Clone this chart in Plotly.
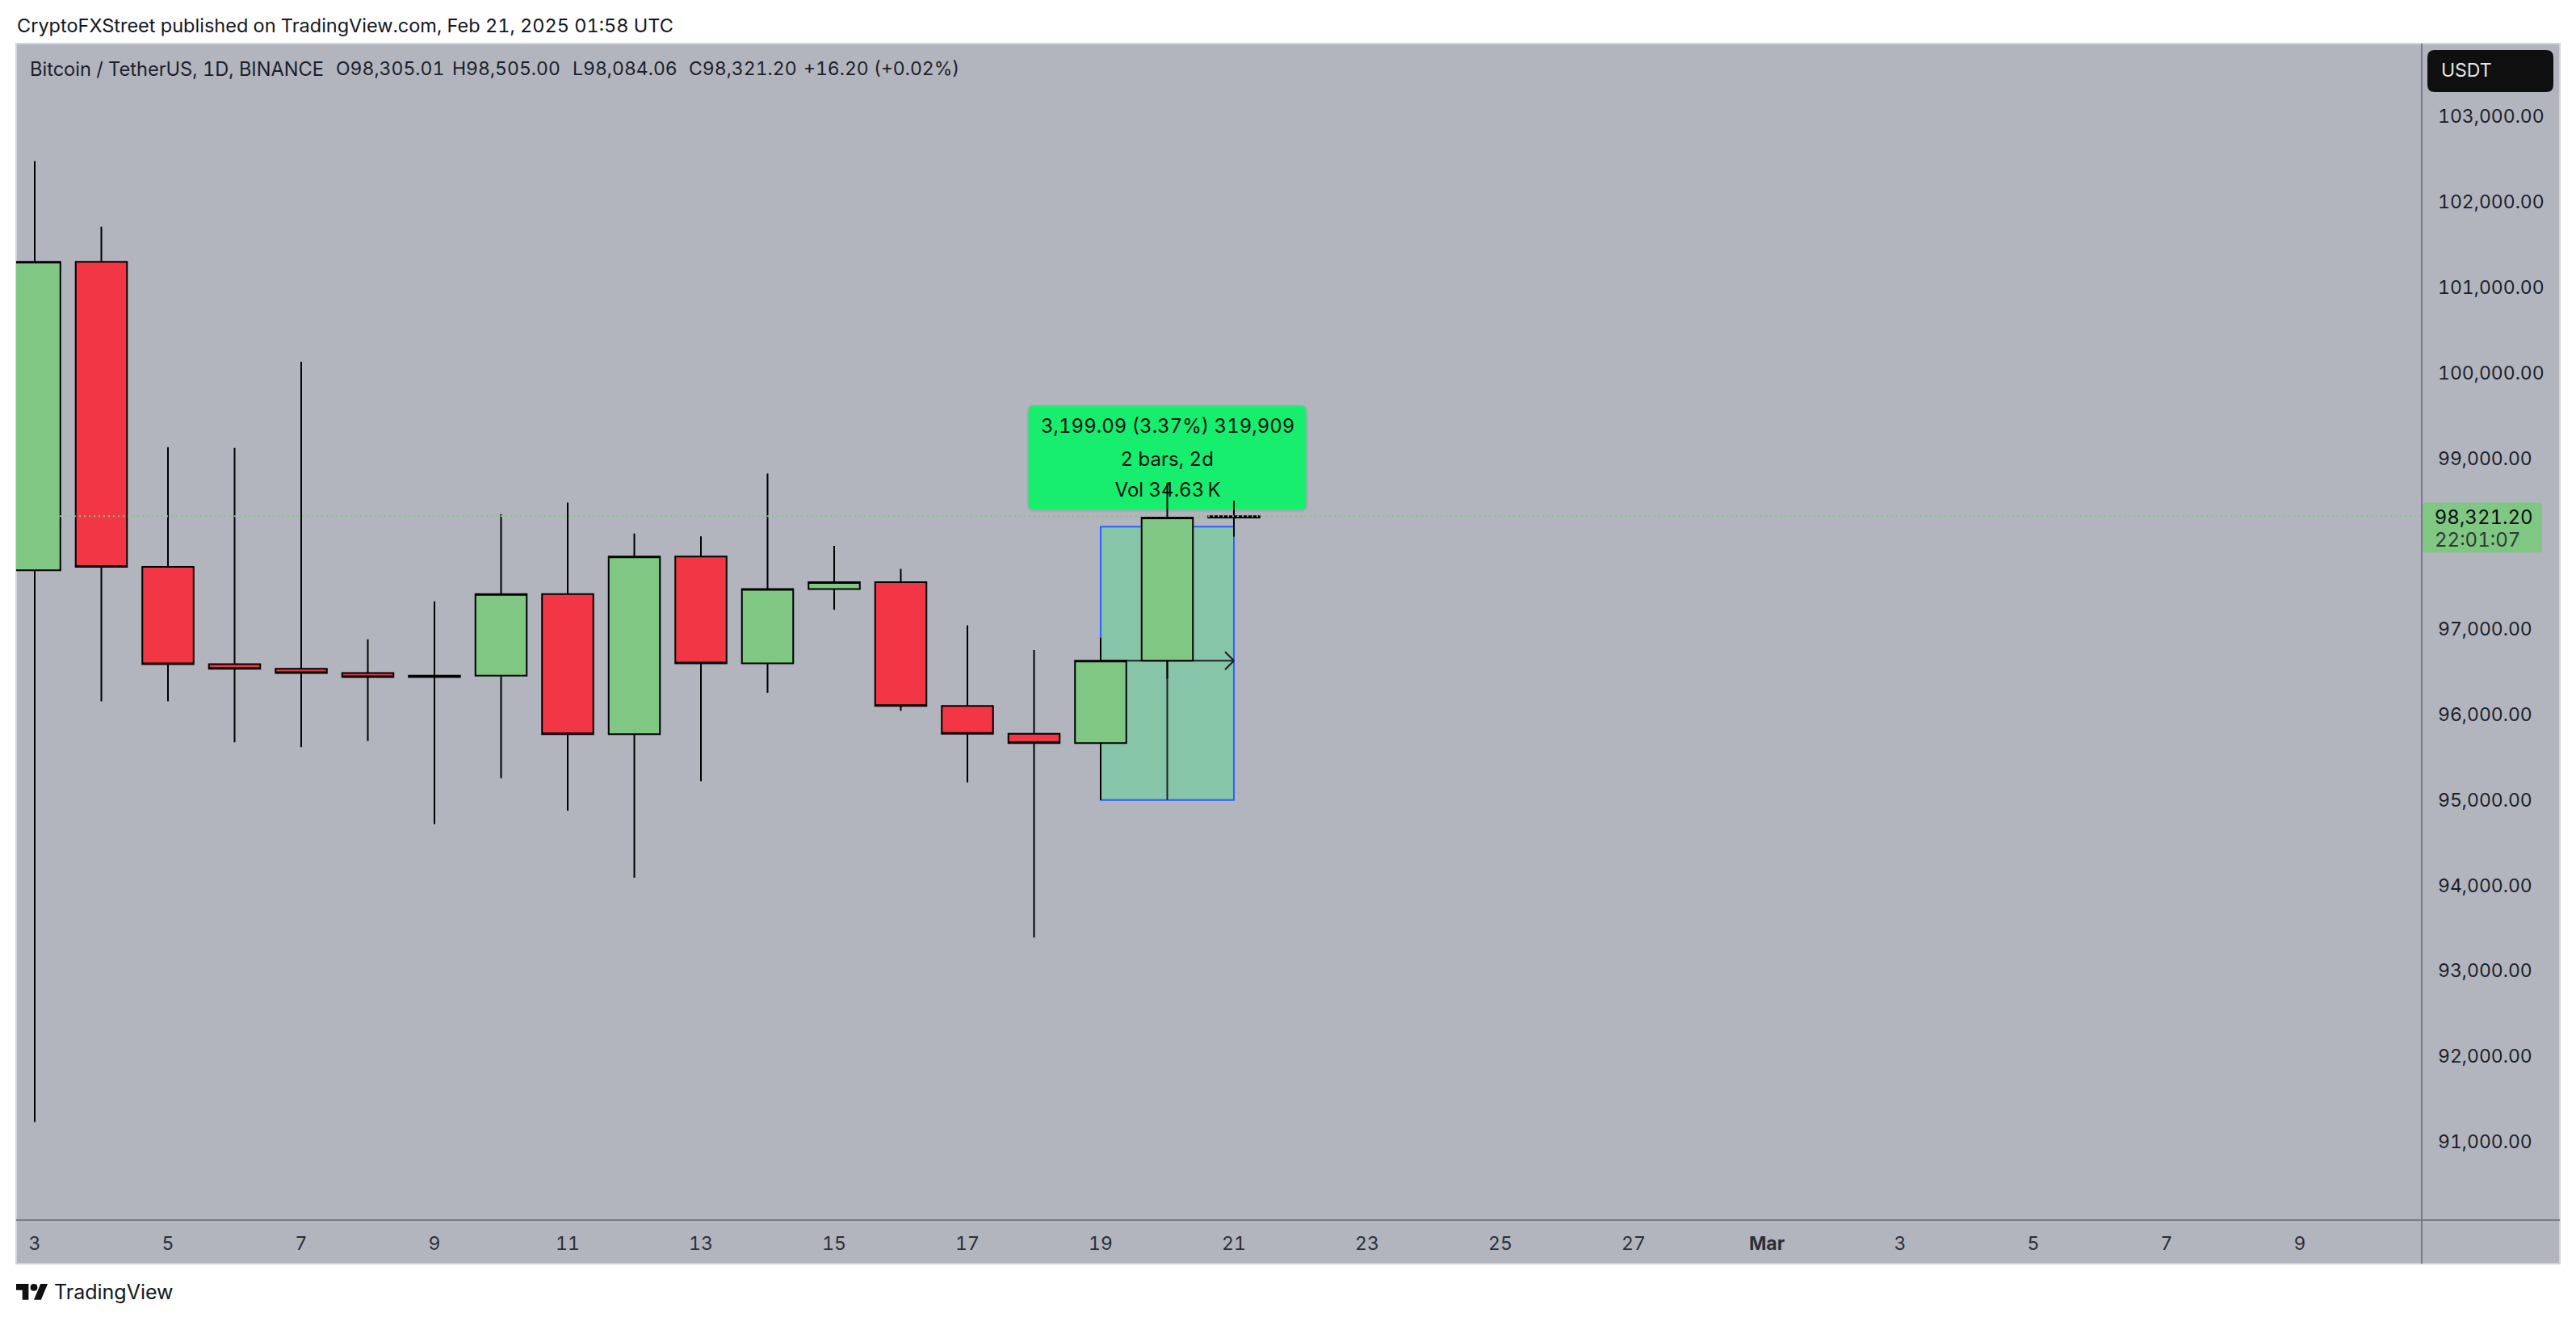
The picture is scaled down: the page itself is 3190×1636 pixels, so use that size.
import pandas as pd
import plotly.graph_objects as go

W, H = 3190, 1636

# ---- data ----
dates = ["2025-02-%02d" % d for d in range(3, 22)]
opens = [97690, 101300, 97730, 96590, 96535, 96485, 96440, 96455, 97410, 95770, 97850, 96600, 97470, 97550, 96100, 95775, 95665, 96630, 98305.01]
highs = [102480, 101710, 99130, 99120, 100130, 96880, 97325, 98345, 98480, 98120, 98085, 98820, 97975, 97705, 97045, 96755, 96900, 98715, 98505.00]
lows = [91230, 96155, 96155, 95675, 95620, 95690, 94715, 95255, 94875, 94090, 95220, 96255, 97225, 96045, 95205, 93390, 95000, 96420, 98084.06]
closes = [101300, 97730, 96590, 96535, 96485, 96440, 96455, 97410, 95770, 97850, 96600, 97470, 97550, 96100, 95775, 95665, 96630, 98305, 98321.20]

price_ticks = [91000, 92000, 93000, 94000, 95000, 96000, 97000, 99000, 100000, 101000, 102000, 103000]
date_ticks = ["2025-02-03", "2025-02-05", "2025-02-07", "2025-02-09", "2025-02-11", "2025-02-13",
              "2025-02-15", "2025-02-17", "2025-02-19", "2025-02-21", "2025-02-23", "2025-02-25",
              "2025-02-27", "2025-03-01", "2025-03-03", "2025-03-05", "2025-03-07", "2025-03-09"]
date_labels = ["3", "5", "7", "9", "11", "13", "15", "17", "19", "21", "23", "25", "27",
               "<b>Mar</b>", "3", "5", "7", "9"]

last_price = 98321.20
measure_low, measure_high = 95000.00, 98199.09
measure_start, measure_mid, measure_end = "2025-02-19", "2025-02-20", "2025-02-21"
measure_open = 96630
measure_lines = ["3,199.09 (3.37%) 319,909", "2 bars, 2d", "Vol 34.63\u2009K"]

header = "CryptoFXStreet published on TradingView.com, Feb 21, 2025 01:58 UTC"
legend_parts = ["Bitcoin / TetherUS, 1D, BINANCE", "O98,305.01", "H98,505.00", "L98,084.06", "C98,321.20", "+16.20 (+0.02%)"]
price_tag = "98,321.20"
countdown = "22:01:07"

# ---- layout constants (pixels) ----
FONT = "Inter"
BG = "#b2b5be"
GREEN = "#81c784"
RED = "#f23645"
AXISLINE = "#787b86"
INK = "#131722"
L, R, T, B = 20, 2999, 54, 1511      # plot area
RR, BB = 3170, 1565                  # panel outer edge
Y103, PXPER = 144.4, 0.10579         # pixel of 103,000 and pixels per USDT
X3, DAYPX = 43.0, 82.5               # pixel of Feb 3 and pixels per day


def fx(x):
    return x / W


def fy(y):
    return 1 - y / H


shapes = []
ann = []


def rect(x0, y0, x1, y1, fill=None, line=None, lw=0, layer="below"):
    shapes.append(dict(type="rect", xref="paper", yref="paper", x0=fx(x0), x1=fx(x1), y0=fy(y0), y1=fy(y1),
                       fillcolor=fill or "rgba(0,0,0,0)", line=dict(color=line or "rgba(0,0,0,0)", width=lw), layer=layer))


def rounded(w0, h0, w1, h1, r):
    return (f"M{w0+r},{h0} L{w1-r},{h0} Q{w1},{h0} {w1},{h0+r} L{w1},{h1-r} Q{w1},{h1} {w1-r},{h1} "
            f"L{w0+r},{h1} Q{w0},{h1} {w0},{h1-r} L{w0},{h0+r} Q{w0},{h0} {w0+r},{h0} Z")


def round_rect_px(x0, y0, x1, y1, r, fill, layer="below"):
    shapes.append(dict(type="path", xref="paper", yref="paper", xsizemode="pixel", ysizemode="pixel",
                       xanchor=0, yanchor=0, path=rounded(x0, H - y1, x1, H - y0, r),
                       fillcolor=fill, line=dict(width=0), layer=layer))


def text_px(x, y, s, size, color=INK, anchor="left", **kw):
    ann.append(dict(xref="paper", yref="paper", x=fx(x), y=fy(y), text=s, showarrow=False, xanchor=anchor,
                    yanchor="middle", font=dict(family=FONT, size=size, color=color), align="left", borderpad=0, **kw))


# panel, borders, axis rules
rect(L, T, RR, BB, fill=BG, line="#d1d4dc", lw=2)
rect(L, B - 1, RR, B + 1, fill=AXISLINE)
rect(R - 1, T, R + 1, BB, fill=AXISLINE)

# measuring tool, drawn below the candles
shapes.append(dict(type="rect", xref="x", yref="y", x0=measure_start, x1=measure_end, y0=measure_low, y1=measure_high,
                   fillcolor="#87c5a8", line=dict(color="#2962ff", width=2), layer="below"))
shapes.append(dict(type="line", xref="x", yref="y", x0=measure_start, x1=measure_end, y0=measure_open, y1=measure_open,
                   line=dict(color="#1c2026", width=2), layer="below"))
shapes.append(dict(type="line", xref="x", yref="y", x0=measure_mid, x1=measure_mid, y0=measure_low, y1=measure_high,
                   line=dict(color="#1c2026", width=2), layer="below"))
for dy in (-11, 11):
    shapes.append(dict(type="line", xref="x", yref="y", xsizemode="pixel", ysizemode="pixel",
                       xanchor=measure_end, yanchor=measure_open, x0=-11, x1=0, y0=dy, y1=0,
                       line=dict(color="#1c2026", width=2), layer="below"))
# measure label with a soft shadow
shapes.append(dict(type="path", xref="x", yref="y", xsizemode="pixel", ysizemode="pixel",
                   xanchor=measure_mid, yanchor=measure_high, path=rounded(-174, 18, 174, 151, 9),
                   fillcolor="rgba(0,0,0,0.06)", line=dict(width=0), layer="below"))
shapes.append(dict(type="path", xref="x", yref="y", xsizemode="pixel", ysizemode="pixel",
                   xanchor=measure_mid, yanchor=measure_high, path=rounded(-172, 21, 172, 150, 7),
                   fillcolor="#18ee6e", line=dict(width=0), layer="below"))
for s, dy in zip(measure_lines, (125, 84, 46)):
    ann.append(dict(xref="x", yref="y", x=measure_mid, y=measure_high, yshift=dy, text=s, showarrow=False,
                    xanchor="center", yanchor="middle", font=dict(family=FONT, size=24, color="#0b0f14")))

# last price line and tag
shapes.append(dict(type="line", xref="paper", yref="y", x0=fx(L), x1=fx(R), y0=last_price, y1=last_price,
                   line=dict(color=GREEN, width=2, dash="2px,4px"), layer="above"))
shapes.append(dict(type="path", xref="paper", yref="y", xsizemode="pixel", ysizemode="pixel",
                   xanchor=fx(R), yanchor=last_price, path=rounded(1, -45, 149, 17, 4),
                   fillcolor=GREEN, line=dict(width=0), layer="below"))
ann.append(dict(xref="paper", yref="y", x=fx(3018), y=last_price, yshift=-1, text=price_tag, showarrow=False,
                xanchor="left", yanchor="middle", font=dict(family=FONT, size=24, color="#0b0f14")))
ann.append(dict(xref="paper", yref="y", x=fx(3018), y=last_price, yshift=-29, text=countdown, showarrow=False,
                xanchor="left", yanchor="middle", font=dict(family=FONT, size=24, color="#2c3b30")))

# currency button
round_rect_px(3006, 62, 3162, 114, 9, "#0f0f0f")
text_px(3022, 87, "USDT", 23, "#e6e6e6")

# header, legend, footer
text_px(20, 31, header, 23.5, "#131722")
legend_x = [36, 415, 559, 708, 852, 994]
legend_size = [23.6, 23, 23, 23, 23, 23]
for s, x, z in zip(legend_parts, legend_x, legend_size):
    text_px(x, 85, s, z, "#1a1e2a")

sx = 1.1
ox, oy = 20, H - 1590 + 4 * sx
def P(x, y):
    return f"{ox + x * sx:.1f},{oy - y * sx:.1f}"
logo_path = ("M" + P(14, 22) + " L" + P(7, 22) + " L" + P(7, 11) + " L" + P(0, 11) + " L" + P(0, 4) + " L" + P(14, 4) + " Z "
             "M" + P(28, 22) + " L" + P(20, 22) + " L" + P(27.5, 4) + " L" + P(35.5, 4) + " Z "
             "M" + P(16, 8) + " Q" + P(16, 4) + " " + P(20, 4) + " Q" + P(24, 4) + " " + P(24, 8) +
             " Q" + P(24, 12) + " " + P(20, 12) + " Q" + P(16, 12) + " " + P(16, 8) + " Z")
shapes.append(dict(type="path", xref="paper", yref="paper", xsizemode="pixel", ysizemode="pixel", xanchor=0, yanchor=0,
                   path=logo_path, fillcolor="#0f0f0f", line=dict(width=0), layer="below"))
text_px(66, 1600, "TradingView", 25, "#131722")

fig = go.Figure(go.Candlestick(
    x=dates, open=opens, high=highs, low=lows, close=closes,
    increasing=dict(fillcolor=GREEN, line=dict(color="#000000", width=2)),
    decreasing=dict(fillcolor=RED, line=dict(color="#000000", width=2)),
    hoverinfo="skip", showlegend=False,
))

t0 = pd.Timestamp(dates[0])
x_lo = t0 + pd.Timedelta(days=(L - X3) / DAYPX)
x_hi = t0 + pd.Timedelta(days=(R - X3) / DAYPX)
y_hi = 103000 + (Y103 - T) / PXPER
y_lo = 103000 - (B - Y103) / PXPER

fig.update_layout(
    width=W, height=H, margin=dict(l=0, r=0, t=0, b=0), autosize=False,
    paper_bgcolor="#ffffff", plot_bgcolor="rgba(0,0,0,0)", showlegend=False, boxgap=0.23, boxgroupgap=0,
    font=dict(family=FONT, color=INK),
    xaxis=dict(type="date", domain=[fx(L), fx(R)], range=[x_lo, x_hi], rangeslider=dict(visible=False),
               tickmode="array", tickvals=date_ticks, ticktext=date_labels, showgrid=False, zeroline=False,
               showline=False, ticks="", ticklabelstandoff=13, tickangle=0, tickfont=dict(family=FONT, size=23, color="#2a2e39")),
    yaxis=dict(side="right", domain=[fy(B), fy(T)], range=[y_lo, y_hi], tickmode="array", tickvals=price_ticks,
               tickformat=",.2f", showgrid=False, zeroline=False, showline=False, ticks="", ticklabelstandoff=19,
               tickfont=dict(family=FONT, size=23, color="#1a1e2a")),
    shapes=shapes, annotations=ann,
)

post = """
document.body.style.margin='0';
var st=document.createElement('style');
st.textContent='svg text{font-feature-settings:"tnum" 1;}';
document.head.appendChild(st);
Plotly.redraw(document.getElementById('{plot_id}'));
"""
fig.write_html("out.html", post_script=post, config=dict(displayModeBar=False))
